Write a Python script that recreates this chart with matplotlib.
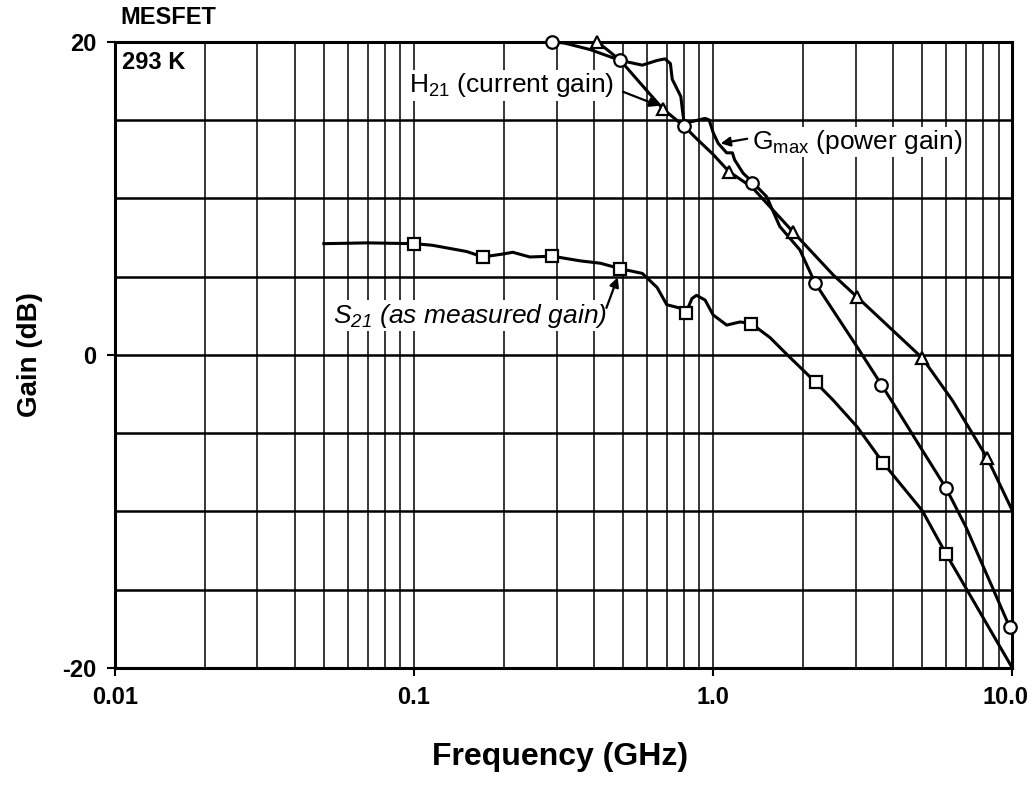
#!/usr/bin/env python
# MESFET gain vs frequency, 293 K

import numpy as np
import matplotlib as mpl
mpl.use('Agg')
import matplotlib.pyplot as plt
import matplotlib.transforms as mtransforms
from matplotlib.ticker import FixedLocator, LogLocator, NullFormatter

plt.rcParams['font.family'] = ['Liberation Sans', 'DejaVu Sans']
plt.rcParams['mathtext.default'] = 'regular'

# S21 (as measured gain), squares
s21_freq = [0.05, 0.07, 0.1, 0.115, 0.15, 0.17, 0.2, 0.214, 0.244, 0.29, 0.36, 0.42,
            0.49, 0.58, 0.65, 0.70, 0.77, 0.81, 0.85, 0.88, 0.94, 1.0, 1.11, 1.23,
            1.34, 1.55, 1.77, 2.2, 2.52, 3.03, 3.7, 5.0, 6.0, 7.0, 10.0]
s21_gain = [7.1, 7.15, 7.1, 7.0, 6.6, 6.25, 6.45, 6.55, 6.25, 6.3, 6.0, 5.85,
            5.5, 5.2, 4.3, 3.2, 3.0, 2.65, 3.6, 3.8, 3.5, 2.55, 1.9, 2.1,
            2.0, 1.1, 0.0, -1.75, -2.9, -4.6, -6.9, -9.95, -12.7, -14.9, -20.0]
s21_mark_freq = [0.1, 0.17, 0.29, 0.49, 0.81, 1.34, 2.2, 3.7, 6.0]
s21_mark_gain = [7.1, 6.25, 6.3, 5.5, 2.65, 2.0, -1.75, -6.9, -12.7]

# Gmax (power gain), circles
gmax_freq = [0.29, 0.32, 0.387, 0.49, 0.58, 0.65, 0.69, 0.72, 0.73, 0.78, 0.79, 0.80,
             0.85, 0.94, 0.97, 1.0, 1.04, 1.11, 1.16, 1.18, 1.26, 1.35, 1.51, 1.67,
             1.95, 2.19, 3.03, 3.65, 4.06, 4.93, 6.0, 7.0, 8.6, 9.8, 10.0]
gmax_gain = [20.0, 19.9, 19.5, 18.8, 18.5, 18.8, 18.9, 18.6, 17.6, 16.5, 15.6, 14.8,
             14.9, 15.1, 15.0, 14.2, 13.5, 12.9, 12.9, 12.45, 11.6, 11.05, 10.1, 8.2,
             6.7, 4.6, 0.5, -1.9, -3.3, -5.9, -8.5, -11.0, -14.9, -17.4, -17.7]
gmax_mark_freq = [0.29, 0.49, 0.80, 1.35, 2.19, 3.65, 6.0, 9.8]
gmax_mark_gain = [20.0, 18.8, 14.6, 11.0, 4.6, -1.9, -8.5, -17.4]

# H21 (current gain), triangles
h21_freq = [0.41, 0.49, 0.58, 0.68, 0.80, 0.87, 1.0, 1.13, 1.35, 1.85, 2.52, 3.03,
            5.0, 6.3, 8.25, 10.0]
h21_gain = [20.0, 18.8, 17.2, 15.7, 14.6, 13.9, 12.8, 11.7, 10.7, 7.85, 5.1, 3.69,
            -0.2, -2.9, -6.6, -9.95]
h21_mark_freq = [0.41, 0.68, 1.13, 1.85, 3.03, 5.0, 8.25]
h21_mark_gain = [20.0, 15.7, 11.7, 7.85, 3.69, -0.2, -6.6]

x_ticks = [0.01, 0.1, 1.0, 10.0]
x_ticklabels = ['0.01', '0.1', '1.0', '10.0']
y_ticks = [-20, 0, 20]
y_ticklabels = ['-20', '0', '20']

fig = plt.figure(figsize=(10.33, 8.01), dpi=100)
ax = fig.add_axes([0.111, 0.166, 0.869, 0.782])

ax.set_xscale('log')
ax.set_xlim(0.01, 10.0)
ax.set_ylim(-20, 20)

# grid
ax.xaxis.set_major_locator(FixedLocator(x_ticks))
ax.xaxis.set_minor_locator(LogLocator(base=10, subs=np.arange(2, 10)))
ax.xaxis.set_minor_formatter(NullFormatter())
ax.set_xticklabels(x_ticklabels)
ax.yaxis.set_major_locator(FixedLocator(y_ticks))
ax.yaxis.set_minor_locator(FixedLocator([-15, -10, -5, 5, 10, 15]))
ax.set_yticklabels(y_ticklabels)
ax.grid(which='both', axis='x', color='black', linewidth=1.1)
ax.grid(which='both', axis='y', color='black', linewidth=1.8)
ax.tick_params(which='minor', length=0)
ax.tick_params(which='major', length=6, width=1.5, direction='out', pad=7,
               labelsize=17)
for lab in ax.get_xticklabels() + ax.get_yticklabels():
    lab.set_fontweight('bold')
# last x label sits at the figure edge: right-align it with a small nudge
last = ax.get_xticklabels()[-1]
last.set_horizontalalignment('right')
last.set_transform(last.get_transform() +
                   mtransforms.ScaledTranslation(16 / 100, 0, fig.dpi_scale_trans))
for sp in ax.spines.values():
    sp.set_linewidth(2.2)

# curves
line_kw = dict(color='black', linewidth=2.2, zorder=3)
mark_kw = dict(linestyle='none', markerfacecolor='white', markeredgecolor='black',
               markeredgewidth=1.6, markersize=9, zorder=4, clip_on=False)
ax.plot(s21_freq, s21_gain, **line_kw)
ax.plot(s21_mark_freq, s21_mark_gain, marker='s', **mark_kw)
ax.plot(gmax_freq, gmax_gain, **line_kw)
ax.plot(gmax_mark_freq, gmax_mark_gain, marker='o', **mark_kw)
ax.plot(h21_freq, h21_gain, **line_kw)
ax.plot(h21_mark_freq, h21_mark_gain, marker='^', **mark_kw)

# annotations
box = dict(facecolor='white', edgecolor='none', pad=1)
arrow = dict(arrowstyle='-|>', color='black', linewidth=1.6, mutation_scale=14,
             shrinkA=0, shrinkB=0)
ax.text(0.096, 17.2, 'H$_{21}$ (current gain)', fontsize=19, ha='left', va='center',
        bbox=box, zorder=5)
ax.annotate('', xy=(0.66, 15.9), xytext=(0.50, 16.8), arrowprops=arrow, zorder=5)
ax.text(1.35, 13.6, 'G$_{max}$ (power gain)', fontsize=19, ha='left', va='center',
        bbox=box, zorder=5)
ax.annotate('', xy=(1.06, 13.5), xytext=(1.30, 13.8), arrowprops=arrow, zorder=5)
ax.text(0.0536, 2.5, 'S$_{21}$ (as measured gain)', fontsize=19, ha='left', va='center',
        style='italic', bbox=box, zorder=5)
ax.annotate('', xy=(0.48, 4.95), xytext=(0.44, 3.0), arrowprops=arrow, zorder=5)

ax.text(0.0106, 18.7, '293 K', fontsize=17, fontweight='bold', ha='left', va='center',
        bbox=box, zorder=5)
fig.text(120 / 1033, 1 - 18 / 801, 'MESFET', fontsize=17, fontweight='bold',
         ha='left', va='center')

fig.text(30 / 1033, 1 - 355 / 801, 'Gain (dB)', fontsize=20, fontweight='bold',
         rotation=90, ha='center', va='center')
fig.text(560 / 1033, 1 - 757 / 801, 'Frequency (GHz)', fontsize=23, fontweight='bold',
         ha='center', va='center')

fig.savefig('out.png', dpi=100)
